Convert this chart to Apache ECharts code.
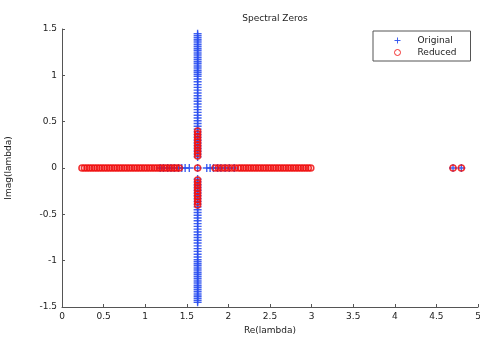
<!DOCTYPE html>
<html>
<head>
<meta charset="utf-8">
<script src="https://cdn.jsdelivr.net/npm/echarts@6/dist/echarts.min.js"></script>
<style>
html, body { margin: 0; padding: 0; background: #fff; }
#main { width: 480px; height: 341px; }
</style>
</head>
<body>
<div id="main"></div>
<script>
// x ticks / y ticks
var xTicks = [0, 0.5, 1, 1.5, 2, 2.5, 3, 3.5, 4, 4.5, 5];
var yTicks = [-1.5, -1, -0.5, 0, 0.5, 1, 1.5];

// Original zeros: vertical branch at Re ~ 1.63
var origLineRe = 1.63;
var origIm = [1.45, 1.43, 1.41, 1.39, 1.37, 1.35, 1.33, 1.31, 1.29, 1.27, 1.25, 1.23, 1.21, 1.19, 1.17,
  1.15, 1.13, 1.11, 1.09, 1.07, 1.05, 1.03, 1.01, 0.99, 0.96, 0.93, 0.90, 0.87, 0.84, 0.81, 0.78,
  0.75, 0.72, 0.69, 0.66, 0.63, 0.60, 0.57, 0.54, 0.51, 0.48, 0.45, 0.42, 0.39, 0.36, 0.33, 0.30,
  0.27, 0.24, 0.21, 0.18, 0.15, 0.12,
  -0.12, -0.15, -0.18, -0.21, -0.24, -0.27, -0.30, -0.33, -0.36, -0.39, -0.42, -0.45, -0.48, -0.51,
  -0.54, -0.57, -0.60, -0.63, -0.66, -0.69, -0.72, -0.75, -0.78, -0.81, -0.84, -0.87, -0.90, -0.93,
  -0.96, -0.99, -1.01, -1.03, -1.05, -1.07, -1.09, -1.11, -1.13, -1.15, -1.17, -1.19, -1.21, -1.23,
  -1.25, -1.27, -1.29, -1.31, -1.33, -1.35, -1.37, -1.39, -1.41, -1.43, -1.45];
// Original zeros on the real axis
var origRealRe = [1.18, 1.22, 1.27, 1.31, 1.35, 1.40, 1.44, 1.48, 1.53, 1.63, 1.74, 1.78, 1.82, 1.87, 1.91, 1.96, 2.01, 2.07, 4.70, 4.80];

// Reduced zeros on the real axis
var redRealRe = [0.24, 0.27, 0.30, 0.33, 0.36, 0.39, 0.42, 0.45, 0.48, 0.51, 0.54, 0.57, 0.60, 0.63,
  0.66, 0.69, 0.72, 0.75, 0.78, 0.81, 0.84, 0.87, 0.90, 0.93, 0.96, 0.99, 1.02, 1.05, 1.08, 1.11,
  1.14, 1.17, 1.20, 1.23, 1.26, 1.29, 1.32, 1.35, 1.38, 1.41, 1.63, 1.84, 1.88, 1.92, 1.96, 2.00,
  2.04, 2.08, 2.12, 2.15, 2.18, 2.21, 2.24, 2.27, 2.30, 2.33, 2.36, 2.39, 2.42, 2.45, 2.48, 2.51,
  2.54, 2.57, 2.60, 2.63, 2.66, 2.69, 2.72, 2.75, 2.78, 2.81, 2.84, 2.87, 2.90, 2.93, 2.96, 2.99,
  4.70, 4.80];
// Reduced zeros on the vertical branch
var redLineIm = [0.40, 0.37, 0.34, 0.31, 0.28, 0.25, 0.22, 0.19, 0.16, 0.13,
  -0.13, -0.16, -0.19, -0.22, -0.25, -0.28, -0.31, -0.34, -0.37, -0.40];

var origData = [], redData = [];
origIm.forEach(function (v) { origData.push([origLineRe, v]); });
origRealRe.forEach(function (v) { origData.push([v, 0]); });
redRealRe.forEach(function (v) { redData.push([v, 0]); });
redLineIm.forEach(function (v) { redData.push([origLineRe, v]); });

var chart = echarts.init(document.getElementById('main'));
var txt = { color: '#222', fontSize: 9, fontFamily: 'DejaVu Sans' };

chart.setOption({
  animation: false,
  title: {
    text: 'Spectral Zeros', left: 270, top: 9, textAlign: 'center',
    textStyle: { color: '#222', fontSize: 9, fontWeight: 'normal', fontFamily: 'DejaVu Sans' }
  },
  legend: {
    orient: 'vertical', left: 373, top: 31,
    borderColor: '#555', borderWidth: 1, padding: [5, 14, 4, 21],
    itemGap: 3, itemWidth: 6, itemHeight: 6,
    itemStyle: { borderWidth: 1 },
    textStyle: { color: '#222', fontSize: 9, fontFamily: 'DejaVu Sans', padding: [0, 0, 0, 12] },
    data: ['Original', 'Reduced']
  },
  grid: { left: 62, right: 2, top: 29, bottom: 34, outerBoundsMode: 'none' },
  xAxis: {
    type: 'value', min: 0, max: 5, interval: 0.5,
    name: 'Re(lambda)', nameLocation: 'middle', nameGap: 16,
    nameTextStyle: txt,
    axisLine: { onZero: false, lineStyle: { color: '#555' } },
    axisTick: { inside: true, length: 3, lineStyle: { color: '#555' } },
    axisLabel: Object.assign({ margin: 5 }, txt),
    splitLine: { show: false }
  },
  yAxis: {
    type: 'value', min: -1.5, max: 1.5, interval: 0.5,
    name: 'Imag(lambda)', nameLocation: 'middle', nameGap: 49,
    nameTextStyle: txt,
    axisLine: { show: true, onZero: false, lineStyle: { color: '#555' } },
    axisTick: { show: true, inside: true, length: 3, lineStyle: { color: '#555' } },
    axisLabel: Object.assign({ margin: 5 }, txt),
    splitLine: { show: false }
  },
  series: [{
    name: 'Original', type: 'scatter', data: origData,
    symbol: 'path://M0,-5L0,5M-5,0L5,0', symbolSize: 8,
    itemStyle: { color: 'transparent', borderColor: '#2a4ff0', borderWidth: 1.4, opacity: 0.9 }
  }, {
    name: 'Reduced', type: 'scatter', data: redData,
    symbol: 'circle', symbolSize: 6,
    itemStyle: { color: 'transparent', borderColor: '#f01010', borderWidth: 1.6, opacity: 0.85 }
  }]
});
</script>
</body>
</html>
